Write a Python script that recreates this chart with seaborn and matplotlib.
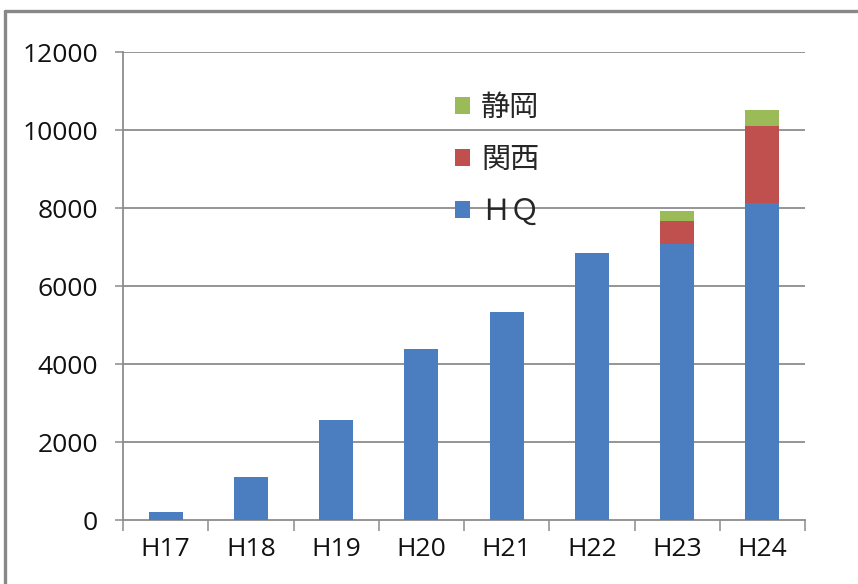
import matplotlib
matplotlib.use("Agg")
import matplotlib.pyplot as plt
from matplotlib.patches import Patch
from matplotlib.lines import Line2D
import seaborn as sns
import pandas as pd
import numpy as np

# Yearly counts by site
years = ["H17", "H18", "H19", "H20", "H21", "H22", "H23", "H24"]
hq = [200, 1100, 2560, 4380, 5340, 6850, 7080, 8140]
kansai = [0, 0, 0, 0, 0, 0, 590, 1950]
shizuoka = [0, 0, 0, 0, 0, 0, 260, 430]
y_ticks = [0, 2000, 4000, 6000, 8000, 10000, 12000]

BLUE = "#4A7EC0"
RED = "#C0504D"
GREEN = "#9BBB59"
GRID = "#8c8c8c"

df = pd.DataFrame({"year": years, "HQ": hq, "kansai": kansai, "shizuoka": shizuoka})
df["lvl_kansai"] = df["HQ"] + df["kansai"]
df["lvl_total"] = df["lvl_kansai"] + df["shizuoka"]

sns.set_theme(style="white")
plt.rcParams["font.family"] = ["Open Sans", "Noto Sans CJK JP", "DejaVu Sans"]

fig = plt.figure(figsize=(8.58, 5.84), dpi=100)
ax = fig.add_axes([123 / 858, 1 - 520 / 584, 682 / 858, 468 / 584])

# stacked bars: draw cumulative levels from the top down
bar_kw = dict(width=0.4, saturation=1, linewidth=0, edgecolor="none", ax=ax, zorder=3)
sns.barplot(data=df, x="year", y="lvl_total", color=GREEN, **bar_kw)
sns.barplot(data=df, x="year", y="lvl_kansai", color=RED, **bar_kw)
sns.barplot(data=df, x="year", y="HQ", color=BLUE, **bar_kw)

ax.set_xlim(-0.5, len(years) - 0.5)
ax.set_ylim(0, 12000)
ax.set_yticks(y_ticks)
ax.set_yticklabels([str(v) for v in y_ticks])
ax.set_xlabel("")
ax.set_ylabel("")

for v in y_ticks[1:]:
    ax.axhline(v, color=GRID, lw=1.3, zorder=1)

for side in ["top", "right"]:
    ax.spines[side].set_visible(False)
for side in ["left", "bottom"]:
    ax.spines[side].set_color(GRID)
    ax.spines[side].set_linewidth(1.3)

ax.tick_params(axis="y", which="major", length=6, width=1.1, color=GRID,
               direction="out", pad=12, labelsize=19, labelcolor="#111111", left=True)
ax.set_xticks(np.arange(-0.5, len(years)), minor=True)
ax.tick_params(axis="x", which="minor", length=8, width=1.1, color=GRID,
               direction="out", bottom=True)
ax.tick_params(axis="x", which="major", length=0, pad=12, labelsize=19,
               labelcolor="#111111")

handles = [Patch(facecolor=GREEN, edgecolor="none"),
           Patch(facecolor=RED, edgecolor="none"),
           Patch(facecolor=BLUE, edgecolor="none")]
labels = ["静岡", "関西", "ＨＱ"]
ax.legend(handles, labels, loc="upper left",
          bbox_to_anchor=((455 - 123) / 682, (520 - 93) / 468),
          frameon=False, borderpad=0, borderaxespad=0,
          prop={"family": ["Noto Sans CJK JP", "DejaVu Sans"], "size": 21},
          handlelength=0.5, handleheight=0.5, handletextpad=0.4,
          labelspacing=0.75)

# outer chart frame
fig.add_artist(Line2D([5 / 858, 1.0], [1 - 11 / 584, 1 - 11 / 584],
                      transform=fig.transFigure, color="#888888", lw=2.4))
fig.add_artist(Line2D([5 / 858, 5 / 858], [0.0, 1 - 11 / 584],
                      transform=fig.transFigure, color="#888888", lw=2.4))

fig.savefig("out.png", dpi=100)
